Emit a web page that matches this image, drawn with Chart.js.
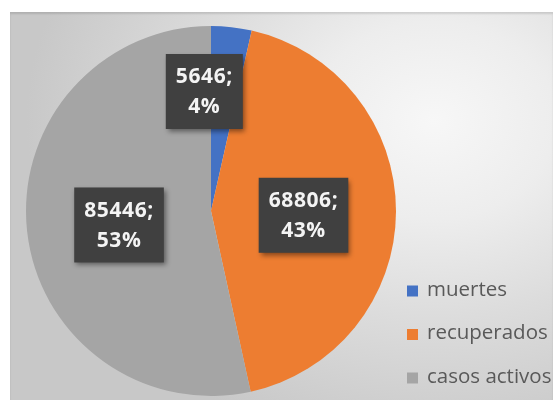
<!DOCTYPE html>
<html>
<head>
<meta charset="utf-8">
<script src="https://cdn.jsdelivr.net/npm/chart.js@4/dist/chart.umd.min.js"></script>
<style>
  html, body { margin: 0; padding: 0; background: #ffffff; }
  #wrap { position: relative; width: 553px; height: 400px; overflow: hidden; background: #ffffff; }
  #panel {
    position: absolute; left: 10px; top: 12px; right: 0; bottom: 0;
    background: radial-gradient(ellipse 75% 85% at 78% 28%, #f7f7f7 0%, #ededed 30%, #dcdcdc 60%, #c8c8c8 100%);
    box-shadow: inset 0 2px 2px rgba(0,0,0,0.12);
  }
  #c { position: absolute; left: 0; top: 0; }
</style>
</head>
<body>
<div id="wrap">
  <div id="panel"></div>
  <canvas id="c" width="553" height="400"></canvas>
</div>
<script>
// Categories and values
const categories = ['muertes', 'recuperados', 'casos activos'];
const casos = [5646, 68806, 85446];
const colores = ['#4472C4', '#ED7D31', '#A5A5A5'];

// Label placement along each slice's bisector (fraction of radius) plus a nudge
const labelRadius = [0.65, 0.5, 0.5];
const labelNudge = [[-20, 0], [0, 4], [0, 4]];

const total = casos.reduce((a, b) => a + b, 0);

const sliceLabels = {
  id: 'sliceLabels',
  afterDatasetsDraw(chart) {
    const ctx = chart.ctx;
    const meta = chart.getDatasetMeta(0);
    ctx.save();
    ctx.font = 'bold 21px "Open Sans", sans-serif';
    if ('letterSpacing' in ctx) ctx.letterSpacing = '0.6px';
    ctx.textAlign = 'center';
    ctx.textBaseline = 'middle';
    meta.data.forEach((arc, i) => {
      const p = arc.getProps(['x', 'y', 'startAngle', 'endAngle', 'outerRadius'], true);
      const mid = (p.startAngle + p.endAngle) / 2;
      const cx = p.x + Math.cos(mid) * p.outerRadius * labelRadius[i] + labelNudge[i][0];
      const cy = p.y + Math.sin(mid) * p.outerRadius * labelRadius[i] + labelNudge[i][1];
      const v = casos[i];
      const l1 = v + ';';
      const l2 = Math.round(v / total * 100) + '%';
      const w = Math.max(ctx.measureText(l1).width, ctx.measureText(l2).width) + 20;
      const h = 75;
      ctx.save();
      ctx.shadowColor = 'rgba(0,0,0,0.45)';
      ctx.shadowBlur = 5;
      ctx.shadowOffsetX = 2;
      ctx.shadowOffsetY = 3;
      ctx.fillStyle = '#404040';
      ctx.fillRect(cx - w / 2, cy - h / 2, w, h);
      ctx.restore();
      ctx.fillStyle = '#f4f4f4';
      ctx.fillText(l1, cx, cy - 14);
      ctx.fillText(l2, cx, cy + 16);
    });
    ctx.restore();
  }
};

const sideLegend = {
  id: 'sideLegend',
  afterDraw(chart) {
    const ctx = chart.ctx;
    const x0 = 407, y0 = 291, step = 43.5, box = 11;
    ctx.save();
    ctx.font = '20.5px "Open Sans", sans-serif';
    ctx.textAlign = 'left';
    ctx.textBaseline = 'middle';
    categories.forEach((name, i) => {
      const y = y0 + i * step;
      ctx.fillStyle = colores[i];
      ctx.fillRect(x0, y - box / 2, box, box);
      ctx.fillStyle = '#595959';
      ctx.fillText(name, x0 + 20, y - 1);
    });
    ctx.restore();
  }
};

function draw() {
  new Chart(document.getElementById('c'), {
    type: 'pie',
    data: {
      labels: categories,
      datasets: [{
        data: casos,
        backgroundColor: colores,
        borderWidth: 0
      }]
    },
    options: {
      responsive: false,
      animation: false,
      layout: { padding: { left: 26, right: 157, top: 26, bottom: 4 } },
      plugins: {
        legend: { display: false },
        tooltip: { enabled: false }
      }
    },
    plugins: [sliceLabels, sideLegend]
  });
}

if (document.fonts && document.fonts.load) {
  Promise.all([
    document.fonts.load('bold 21px "Open Sans"'),
    document.fonts.load('20.5px "Open Sans"')
  ]).then(draw, draw);
} else {
  draw();
}
</script>
</body>
</html>
